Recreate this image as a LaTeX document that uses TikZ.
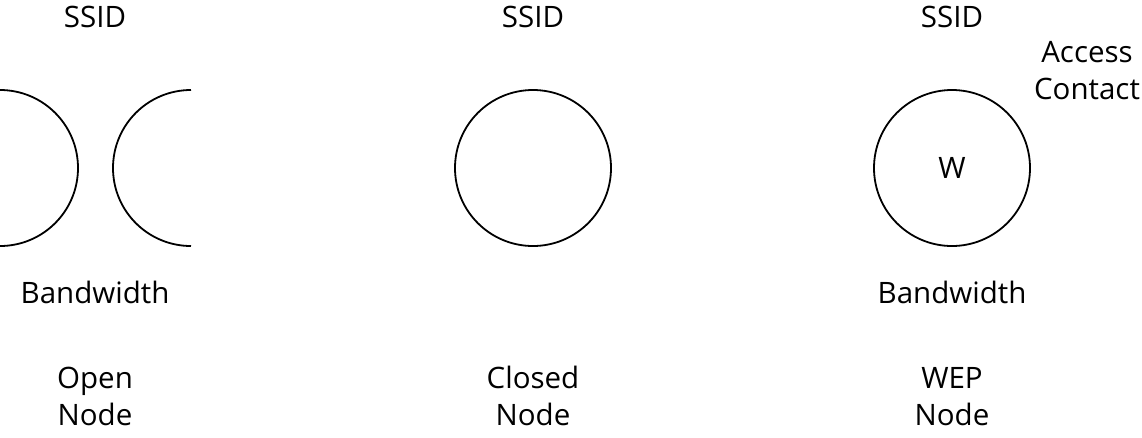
\documentclass[tikz,border=0pt]{standalone}
\usepackage{fontspec}
\setmainfont{Open Sans}
\usepackage{tikz}
\usetikzlibrary{positioning}

\begin{document}
\begin{tikzpicture}[
  x=1pt, y=-1pt,
  every node/.style={font=\fontsize{29.5}{37}\selectfont},
  lbl/.style={anchor=base, inner sep=0pt, align=center},
  ring/.style={circle, draw, line width=1.8pt, minimum size=156pt, inner sep=0pt},
  edge/.style={line width=1.8pt},
]
\useasboundingbox (0,0) rectangle (1142,437);

% open node
\node[lbl] (ssidA) at (95,27) {SSID};
\draw[edge] (0,90) arc[start angle=-90, end angle=90, radius=78];
\draw[edge] (191,90) arc[start angle=-90, end angle=-270, radius=78];
\node[lbl] (bwA)   at (95,303) {Bandwidth};
\node[lbl] (openA) at (95,425) {Open\\Node};

% closed node
\node[lbl] (ssidB)  at (533,27) {SSID};
\node[ring] (closed) at (533,168) {};
\node[lbl] (nameB)  at (533,425) {Closed\\Node};

% wep node
\node[lbl] (ssidC) at (952,27) {SSID};
\node[ring] (wep)  at (952,168) {W};
\node[lbl] (acc)   at (1087,99) {Access\\Contact};
\node[lbl] (bwC)   at (952,303) {Bandwidth};
\node[lbl] (nameC) at (952,425) {WEP\\Node};
\end{tikzpicture}
\end{document}
